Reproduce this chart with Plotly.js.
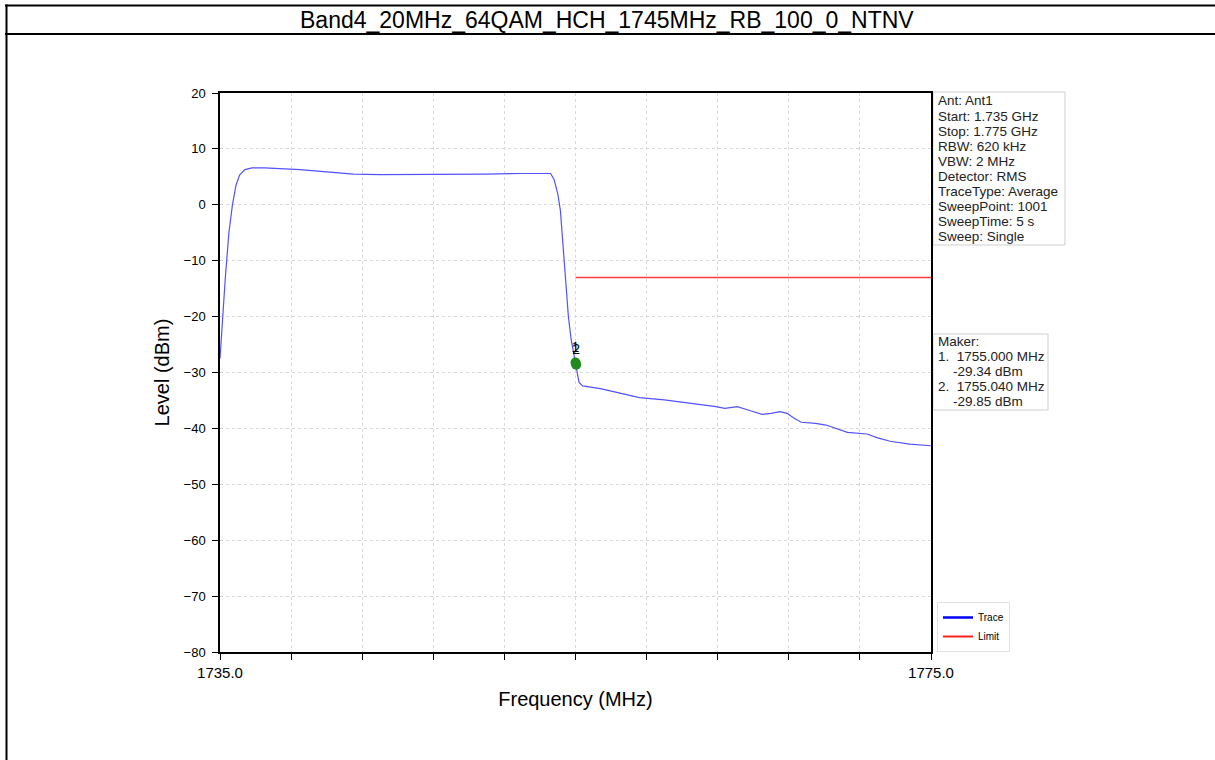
<!DOCTYPE html>
<html>
<head>
<meta charset="utf-8">
<script src="https://cdn.plot.ly/plotly-3.0.1.min.js"></script>
<style>
html,body{margin:0;padding:0;background:#fff;}
#chart{width:1215px;height:760px;}
</style>
</head>
<body>
<div id="chart"></div>
<script>
// ---- data ----
const chartTitle = "Band4_20MHz_64QAM_HCH_1745MHz_RB_100_0_NTNV";
const traceFreq = [1735.0,1735.15,1735.3,1735.5,1735.7,1735.9,1736.1,1736.4,1736.8,1737.5,1738.5,1739.5,1741,1742.5,1744,1746,1748,1750,1752,1753.3,1753.6,1753.8,1754.0,1754.15,1754.3,1754.45,1754.6,1754.75,1754.9,1755.0,1755.1,1755.2,1755.4,1756.4,1757.5,1758.6,1760,1761.5,1762.9,1763.4,1764.1,1764.8,1765.5,1766,1766.5,1766.9,1767.3,1767.7,1768.5,1769.1,1769.7,1770.3,1771.4,1772,1772.7,1773.8,1775];
const traceLevel = [-27.5,-20,-13,-5,0,3.5,5.3,6.3,6.6,6.6,6.5,6.3,5.9,5.5,5.4,5.4,5.5,5.5,5.6,5.7,5.6,4.5,2,-1,-7,-14,-20,-24,-26.5,-28.2,-30.5,-31.8,-32.4,-32.9,-33.7,-34.5,-34.9,-35.5,-36.1,-36.4,-36.1,-36.8,-37.5,-37.3,-37.0,-37.3,-38.2,-38.9,-39.1,-39.4,-40.1,-40.7,-41.0,-41.7,-42.3,-42.8,-43.1];
const limitFreq = [1755, 1775];
const limitLevel = [-13, -13];
const markerNames = ["1", "2"];
const markerFreq = [1755.000, 1755.040];
const markerPlotLevel = [-28.2, -28.6];
const markerReadout = ["-29.34", "-29.85"];
const xTickVals = [1735,1739,1743,1747,1751,1755,1759,1763,1767,1771,1775];
const xTickText = ["1735.0","","","","","","","","","","1775.0"];
const yTickVals = [20,10,0,-10,-20,-30,-40,-50,-60,-70,-80];
const infoLines = ["Ant: Ant1","Start: 1.735 GHz","Stop: 1.775 GHz","RBW: 620 kHz","VBW: 2 MHz","Detector: RMS","TraceType: Average","SweepPoint: 1001","SweepTime: 5 s","Sweep: Single"];

// ---- layout geometry (pixels) ----
const W = 1215, H = 760;
const L = 220, R = 931, T = 93, B = 652;
const px = x => (x - L) / (R - L);
const py = y => (B - y) / (B - T);

const FONT = "Liberation Sans, Arial, sans-serif";
const NB = "&nbsp;";

const markerText = ["Maker:"];
markerNames.forEach((n, i) => {
  markerText.push(n + "." + NB.repeat(2) + markerFreq[i].toFixed(3) + " MHz");
  markerText.push(NB.repeat(4) + markerReadout[i] + " dBm");
});

const data = [
  {x: traceFreq, y: traceLevel, type: "scatter", mode: "lines", name: "Trace", showlegend: false,
   line: {color: "#5252ff", width: 1.2}},
  {x: limitFreq, y: limitLevel, type: "scatter", mode: "lines", name: "Limit", showlegend: false,
   line: {color: "#ff3b3b", width: 1.4}},
  {x: markerFreq, y: markerPlotLevel, type: "scatter", mode: "markers+text", showlegend: false,
   text: markerNames, textposition: "top center", textfont: {family: FONT, size: 14, color: "#000"},
   marker: {color: "#1f8a1f", size: 10, symbol: "circle"}},
  // legend entries
  {x: [null], y: [null], type: "scatter", mode: "lines", name: "Trace", line: {color: "#0000ff", width: 2.5}},
  {x: [null], y: [null], type: "scatter", mode: "lines", name: "Limit", line: {color: "#ff2020", width: 2}}
];

const annotations = [
  {xref: "paper", yref: "paper", x: px(607), y: py(20), xanchor: "center", yanchor: "middle",
   text: chartTitle, showarrow: false, font: {family: FONT, size: 23, color: "#000"}}
];
infoLines.forEach((t, i) => {
  annotations.push({xref: "paper", yref: "paper", x: px(936), y: py(101 + i * 15.1), xanchor: "left", yanchor: "middle",
    text: t, showarrow: false, font: {family: FONT, size: 13.5, color: "#222"}});
});
markerText.forEach((t, i) => {
  annotations.push({xref: "paper", yref: "paper", x: px(936), y: py(341 + i * 15.2), xanchor: "left", yanchor: "middle",
    text: t, showarrow: false, font: {family: FONT, size: 13.5, color: "#222"}});
});

const layout = {
  width: W, height: H,
  margin: {l: L, r: W - R, t: T, b: H - B, pad: 0},
  paper_bgcolor: "#fff", plot_bgcolor: "#fff",
  font: {family: FONT, color: "#000"},
  showlegend: true,
  legend: {x: px(937), y: py(652), xanchor: "left", yanchor: "bottom",
           bgcolor: "#fff", bordercolor: "#e2e2e2", borderwidth: 1,
           font: {family: FONT, size: 10, color: "#000"}, tracegroupgap: 0, itemwidth: 30},
  xaxis: {
    range: [1735, 1775], tickmode: "array", tickvals: xTickVals, ticktext: xTickText,
    ticks: "outside", ticklen: 6, tickwidth: 1.2, tickcolor: "#000",
    showline: true, linecolor: "#000", linewidth: 1.5, mirror: true,
    showgrid: true, gridcolor: "#d9d9d9", griddash: "dot", gridwidth: 1,
    zeroline: false, tickfont: {family: FONT, size: 15, color: "#000"},
    title: {text: "Frequency (MHz)", font: {family: FONT, size: 20, color: "#000"}, standoff: 12}
  },
  yaxis: {
    range: [-80, 20], tickmode: "array", tickvals: yTickVals,
    ticks: "outside", ticklen: 6, tickwidth: 1.2, tickcolor: "#000", ticklabelstandoff: 4,
    showline: true, linecolor: "#000", linewidth: 1.5, mirror: true,
    showgrid: true, gridcolor: "#d9d9d9", griddash: "dot", gridwidth: 1,
    zeroline: false, tickfont: {family: FONT, size: 13, color: "#000"},
    title: {text: "Level (dBm)", font: {family: FONT, size: 20, color: "#000"}, standoff: 9}
  },
  shapes: [
    {type: "line", xref: "paper", yref: "paper", x0: px(5), x1: px(W + 5), y0: py(5.5), y1: py(5.5), line: {color: "#000", width: 2}},
    {type: "line", xref: "paper", yref: "paper", x0: px(5), x1: px(W + 5), y0: py(34), y1: py(34), line: {color: "#000", width: 2}},
    {type: "line", xref: "paper", yref: "paper", x0: px(6.5), x1: px(6.5), y0: py(4.5), y1: py(H + 5), line: {color: "#000", width: 2}},
    {type: "rect", xref: "paper", yref: "paper", x0: px(933), x1: px(1065), y0: py(92), y1: py(245),
     line: {color: "#cfcfcf", width: 1}, fillcolor: "rgba(0,0,0,0)", layer: "below"},
    {type: "rect", xref: "paper", yref: "paper", x0: px(933), x1: px(1048), y0: py(334), y1: py(410),
     line: {color: "#cfcfcf", width: 1}, fillcolor: "rgba(0,0,0,0)", layer: "below"}
  ],
  annotations: annotations
};

Plotly.newPlot("chart", data, layout, {displayModeBar: false, responsive: false});
</script>
</body>
</html>
